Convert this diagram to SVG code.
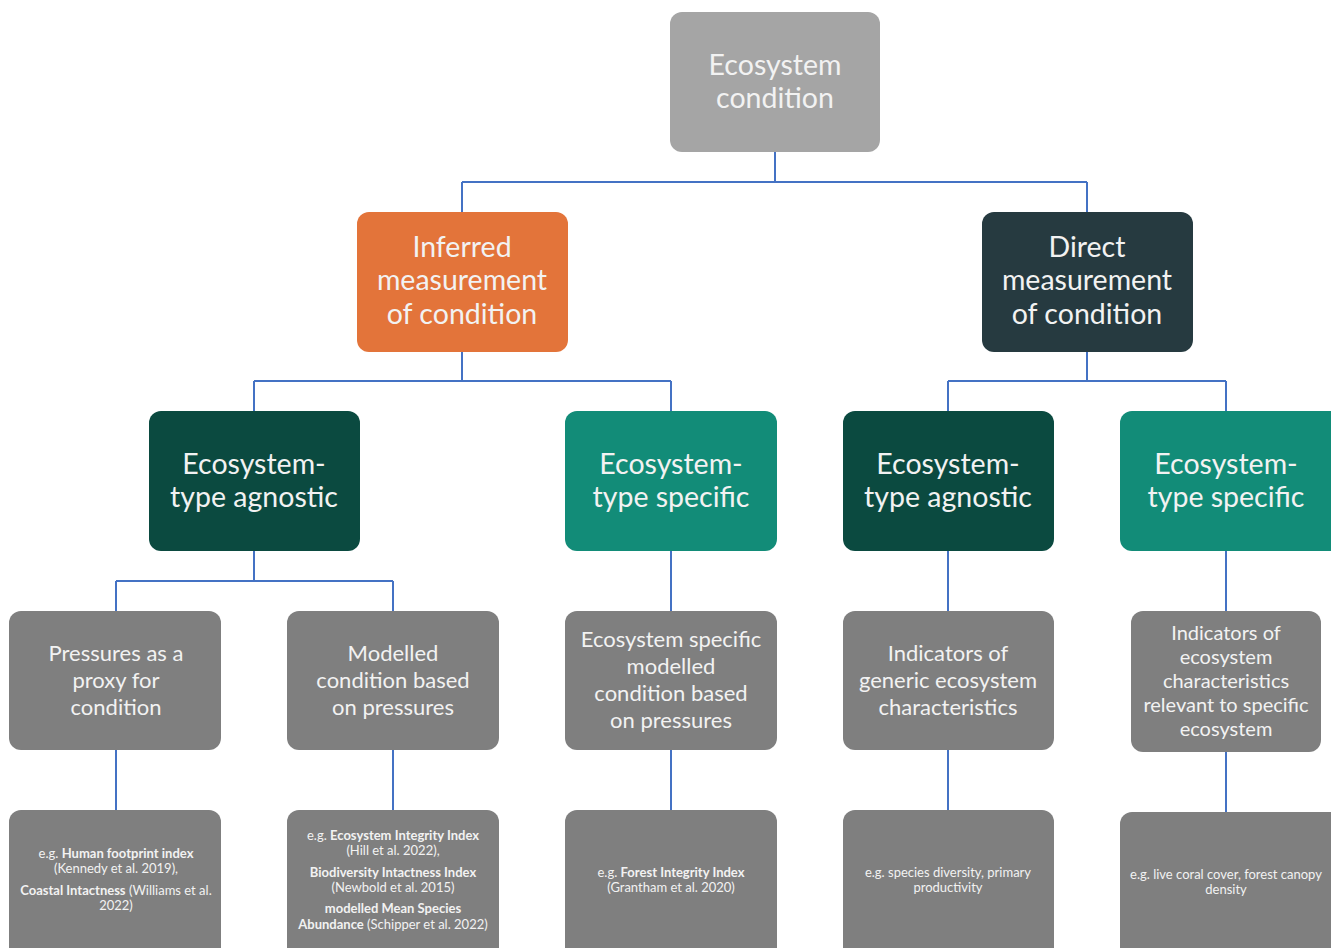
<svg xmlns="http://www.w3.org/2000/svg" width="1331" height="948" viewBox="0 0 1331 948">
<style>
.t{font-family:Lato,"Liberation Sans",sans-serif;fill:#f2f2f2;text-anchor:middle}
.big{font-size:28.5px}
.mid{font-size:22px}
.mid2{font-size:20px}
.sm{font-size:13px}
.b{font-weight:bold}
.c{fill:none;stroke:#4472c4;stroke-width:2}
</style>
<rect width="1331" height="948" fill="#ffffff"/>
<g id="connectors">
<path class="c" d="M775 152V182M462 182H1087M462 182V212M1087 182V212"/>
<path class="c" d="M462 352V381M254 381H671M254 381V411M671 381V411"/>
<path class="c" d="M1087 352V381M948 381H1226M948 381V411M1226 381V411"/>
<path class="c" d="M254 551V581M116 581H393M116 581V611M393 581V611"/>
<path class="c" d="M671 551V611M948 551V611M1226 551V611"/>
<path class="c" d="M116 750V810M393 750V810M671 750V810M948 750V810M1226 752V812"/>
</g>
<g id="root">
<rect x="670" y="12" width="210" height="140" rx="12" fill="#a5a5a5"/>
<text class="t big" x="775" y="75">Ecosystem</text>
<text class="t big" x="775" y="108">condition</text>
</g>
<g id="inferred">
<rect x="357" y="212" width="211" height="140" rx="12" fill="#e3743a"/>
<text class="t big" x="462" y="257">Inferred</text>
<text class="t big" x="462" y="290">measurement</text>
<text class="t big" x="462" y="324">of condition</text>
</g>
<g id="direct">
<rect x="982" y="212" width="211" height="140" rx="12" fill="#263a40"/>
<text class="t big" x="1087" y="257">Direct</text>
<text class="t big" x="1087" y="290">measurement</text>
<text class="t big" x="1087" y="324">of condition</text>
</g>
<g id="inf-agnostic">
<rect x="149" y="411" width="211" height="140" rx="12" fill="#0b4a40"/>
<text class="t big" x="254" y="474">Ecosystem-</text>
<text class="t big" x="254" y="507">type agnostic</text>
</g>
<g id="inf-specific">
<rect x="565" y="411" width="212" height="140" rx="12" fill="#128c78"/>
<text class="t big" x="671" y="474">Ecosystem-</text>
<text class="t big" x="671" y="507">type specific</text>
</g>
<g id="dir-agnostic">
<rect x="843" y="411" width="211" height="140" rx="12" fill="#0b4a40"/>
<text class="t big" x="948" y="474">Ecosystem-</text>
<text class="t big" x="948" y="507">type agnostic</text>
</g>
<g id="dir-specific">
<rect x="1120" y="411" width="223" height="140" rx="12" fill="#128c78"/>
<text class="t big" x="1226" y="474">Ecosystem-</text>
<text class="t big" x="1226" y="507">type specific</text>
</g>
<g id="pressures">
<rect x="9" y="611" width="212" height="139" rx="12" fill="#7f7f7f"/>
<text class="t mid" x="116" y="661">Pressures as a</text>
<text class="t mid" x="116" y="688">proxy for</text>
<text class="t mid" x="116" y="715">condition</text>
</g>
<g id="modelled">
<rect x="287" y="611" width="212" height="139" rx="12" fill="#7f7f7f"/>
<text class="t mid" x="393" y="661">Modelled</text>
<text class="t mid" x="393" y="688">condition based</text>
<text class="t mid" x="393" y="715">on pressures</text>
</g>
<g id="eco-modelled">
<rect x="565" y="611" width="212" height="139" rx="12" fill="#7f7f7f"/>
<text class="t mid" x="671" y="647">Ecosystem specific</text>
<text class="t mid" x="671" y="674">modelled</text>
<text class="t mid" x="671" y="701">condition based</text>
<text class="t mid" x="671" y="728">on pressures</text>
</g>
<g id="generic">
<rect x="843" y="611" width="211" height="139" rx="12" fill="#7f7f7f"/>
<text class="t mid" x="948" y="661">Indicators of</text>
<text class="t mid" x="948" y="688">generic ecosystem</text>
<text class="t mid" x="948" y="715">characteristics</text>
</g>
<g id="relevant">
<rect x="1131" y="611" width="190" height="141" rx="12" fill="#7f7f7f"/>
<text class="t mid2" x="1226" y="640">Indicators of</text>
<text class="t mid2" x="1226" y="664">ecosystem</text>
<text class="t mid2" x="1226" y="688">characteristics</text>
<text class="t mid2" x="1226" y="712">relevant to specific</text>
<text class="t mid2" x="1226" y="736">ecosystem</text>
</g>
<g id="ex-human">
<rect x="9" y="810" width="212" height="160" rx="12" fill="#7f7f7f"/>
<text class="t sm" x="116" y="858">e.g. <tspan class="b">Human footprint index</tspan></text>
<text class="t sm" x="116" y="873">(Kennedy et al. 2019),</text>
<text class="t sm" x="116" y="895"><tspan class="b">Coastal Intactness</tspan> (Williams et al.</text>
<text class="t sm" x="116" y="910">2022)</text>
</g>
<g id="ex-integrity">
<rect x="287" y="810" width="212" height="160" rx="12" fill="#7f7f7f"/>
<text class="t sm" x="393" y="840">e.g. <tspan class="b">Ecosystem Integrity Index</tspan></text>
<text class="t sm" x="393" y="855">(Hill et al. 2022),</text>
<text class="t sm" x="393" y="877"><tspan class="b">Biodiversity Intactness Index</tspan></text>
<text class="t sm" x="393" y="892">(Newbold et al. 2015)</text>
<text class="t sm b" x="393" y="913">modelled Mean Species</text>
<text class="t sm" x="393" y="929"><tspan class="b">Abundance</tspan> (Schipper et al. 2022)</text>
</g>
<g id="ex-forest">
<rect x="565" y="810" width="212" height="160" rx="12" fill="#7f7f7f"/>
<text class="t sm" x="671" y="877">e.g. <tspan class="b">Forest Integrity Index</tspan></text>
<text class="t sm" x="671" y="892">(Grantham et al. 2020)</text>
</g>
<g id="ex-species">
<rect x="843" y="810" width="211" height="160" rx="12" fill="#7f7f7f"/>
<text class="t sm" x="948" y="877">e.g. species diversity, primary</text>
<text class="t sm" x="948" y="892">productivity</text>
</g>
<g id="ex-coral">
<rect x="1120" y="812" width="223" height="160" rx="12" fill="#7f7f7f"/>
<text class="t sm" x="1226" y="879">e.g. live coral cover, forest canopy</text>
<text class="t sm" x="1226" y="894">density</text>
</g>
</svg>
